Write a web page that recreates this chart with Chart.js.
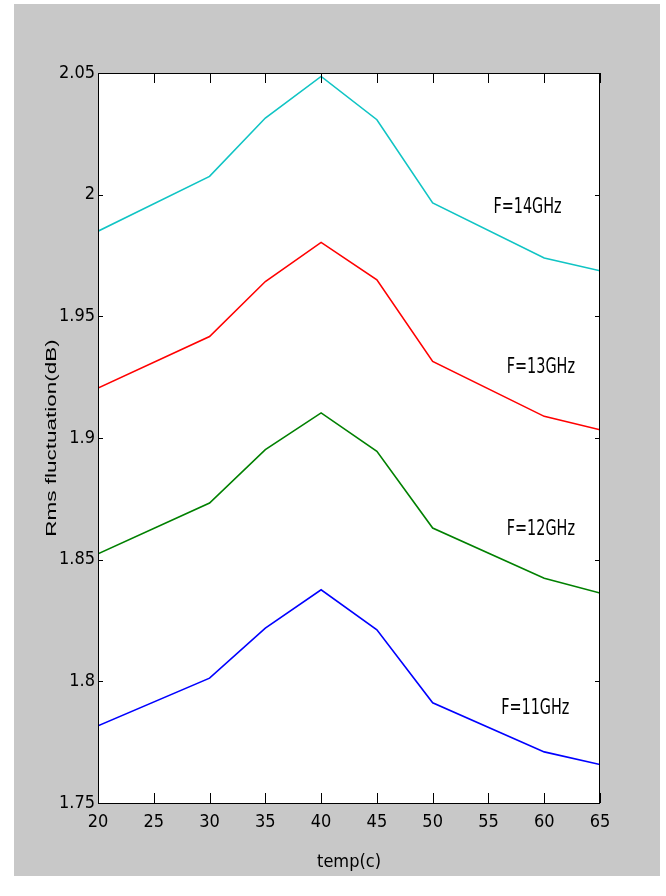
<!DOCTYPE html>
<html>
<head>
<meta charset="utf-8">
<script src="https://cdn.jsdelivr.net/npm/chart.js@4.4.1/dist/chart.umd.min.js"></script>
<style>
  html, body { margin: 0; padding: 0; background: #fff; }
  canvas { display: block; }
</style>
</head>
<body>
<canvas id="chart" width="666" height="896"></canvas>
<script>
// temperatures (c) where the curves bend
const temps = [20, 30, 35, 40, 45, 50, 60, 65];

// rms fluctuation (dB) per frequency
const rms14 = [1.985, 2.0075, 2.0315, 2.0486, 2.0308, 1.9966, 1.974, 1.9687];
const rms13 = [1.9205, 1.9417, 1.9643, 1.9804, 1.965, 1.9315, 1.9089, 1.9034];
const rms12 = [1.8524, 1.8733, 1.8952, 1.9103, 1.8945, 1.863, 1.8424, 1.8363];
const rms11 = [1.7817, 1.8013, 1.8219, 1.8376, 1.8212, 1.7912, 1.771, 1.7658];

const seriesNames = ['F=14GHz', 'F=13GHz', 'F=12GHz', 'F=11GHz'];
const seriesColors = ['#10c4c4', '#ff0000', '#008000', '#0000ff'];

// axis ticks
const xTicks = [20, 25, 30, 35, 40, 45, 50, 55, 60, 65];
const yTicks = [1.75, 1.8, 1.85, 1.9, 1.95, 2, 2.05];

// where the text labels sit, in data units (temp, dB)
const labelTemps = [58.5, 59.7, 59.7, 59.2];
const labelRms = [1.9946, 1.9289, 1.8623, 1.7887];

const narrow = "'Liberation Sans Narrow', 'DejaVu Sans Condensed', 'Liberation Sans', sans-serif";

const matlabFrame = {
  id: 'matlabFrame',
  beforeDraw(chart) {
    const { ctx, chartArea: a } = chart;
    ctx.save();
    ctx.fillStyle = '#fff';
    ctx.fillRect(0, 0, chart.width, chart.height);
    ctx.fillStyle = '#c8c8c8';
    ctx.fillRect(14, 4, 646, 872);
    ctx.fillStyle = '#fff';
    ctx.fillRect(a.left, a.top, a.right - a.left, a.bottom - a.top);
    ctx.restore();
  },
  afterDraw(chart) {
    const { ctx, chartArea: a, scales } = chart;
    ctx.save();
    ctx.strokeStyle = '#000';
    ctx.lineWidth = 1;
    ctx.beginPath();
    ctx.rect(a.left + 0.5, a.top + 0.5, a.right - a.left - 1, a.bottom - a.top);
    scales.x.ticks.forEach((t) => {
      const px = Math.round(scales.x.getPixelForValue(t.value)) + 0.5;
      ctx.moveTo(px, a.bottom); ctx.lineTo(px, a.bottom - 10);
      ctx.moveTo(px, a.top); ctx.lineTo(px, a.top + 10);
    });
    scales.y.ticks.forEach((t) => {
      const py = Math.round(scales.y.getPixelForValue(t.value)) + 0.5;
      ctx.moveTo(a.left, py); ctx.lineTo(a.left + 5, py);
      ctx.moveTo(a.right, py); ctx.lineTo(a.right - 5, py);
    });
    ctx.stroke();

    // curve labels
    ctx.fillStyle = '#000';
    ctx.textAlign = 'center';
    ctx.textBaseline = 'middle';
    seriesNames.forEach((name, i) => {
      const x = scales.x.getPixelForValue(labelTemps[i]);
      const y = scales.y.getPixelForValue(labelRms[i]);
      ctx.save();
      ctx.translate(x, y);
      ctx.scale(1, 1.3);
      ctx.font = `16px ${narrow}`;
      ctx.fillText(name, 0, 0);
      ctx.restore();
    });

    // y axis title, stretched along its length like the source
    ctx.save();
    ctx.translate(52, (a.top + a.bottom) / 2);
    ctx.rotate(-Math.PI / 2);
    ctx.scale(1.5, 1);
    ctx.font = "15px 'Liberation Sans', Arial, sans-serif";
    ctx.fillText('Rms fluctuation(dB)', 0, 0);
    ctx.restore();
    ctx.restore();
  },
};

new Chart(document.getElementById('chart'), {
  type: 'line',
  data: {
    datasets: [rms14, rms13, rms12, rms11].map((vals, i) => ({
      label: seriesNames[i],
      data: vals.map((v, j) => ({ x: temps[j], y: v })),
      borderColor: seriesColors[i],
      borderWidth: 1.6,
      pointRadius: 0,
      tension: 0,
      fill: false,
    })),
  },
  options: {
    responsive: false,
    animation: false,
    devicePixelRatio: 1,
    layout: { padding: { top: 73, right: 66, left: 0, bottom: 20 } },
    plugins: {
      legend: { display: false },
      tooltip: { enabled: false },
    },
    scales: {
      x: {
        type: 'linear',
        min: 20,
        max: 65,
        afterBuildTicks: (s) => { s.ticks = xTicks.map((v) => ({ value: v })); },
        afterFit: (s) => { s.height = 73; },
        grid: { display: false, drawTicks: false },
        border: { display: false },
        ticks: {
          color: '#000',
          padding: 9,
          maxRotation: 0,
          font: { family: narrow, size: 18 },
          callback: (v) => String(v),
        },
        title: {
          display: true,
          text: 'temp(c)',
          color: '#000',
          font: { family: narrow, size: 18 },
          padding: { top: 2, bottom: 3 },
        },
      },
      y: {
        type: 'linear',
        min: 1.75,
        max: 2.05,
        afterBuildTicks: (s) => { s.ticks = yTicks.map((v) => ({ value: v })); },
        afterFit: (s) => { s.width = 98; },
        grid: { display: false, drawTicks: false },
        border: { display: false },
        ticks: {
          color: '#000',
          padding: 3,
          font: { family: narrow, size: 18 },
          callback: (v) => String(Number(v.toFixed(2))),
        },
      },
    },
  },
  plugins: [matlabFrame],
});
</script>
</body>
</html>
